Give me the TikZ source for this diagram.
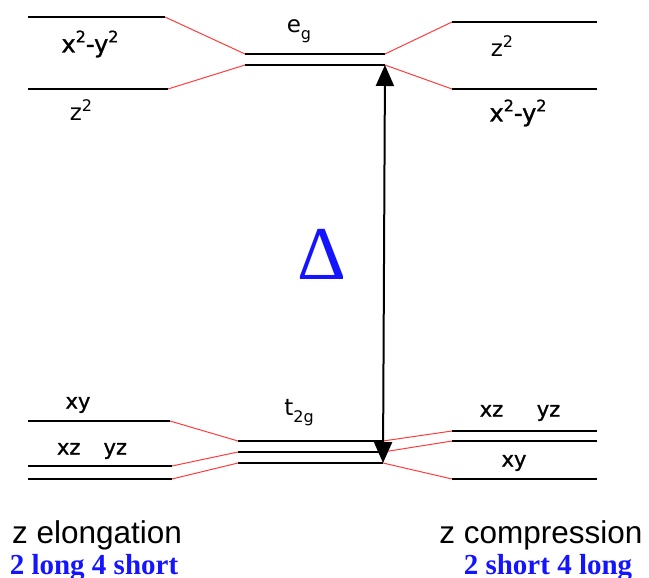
\documentclass[tikz,border=0pt]{standalone}
\usepackage{fontspec}
\setmainfont{Liberation Sans}
\newfontfamily\serifb{Liberation Serif}
\newfontfamily\orbfont{DejaVu Sans}
\newfontfamily\orbbold[FakeBold=1.2]{DejaVu Sans}
\usetikzlibrary{arrows.meta}
\definecolor{lvlred}{RGB}{255,60,60}
\definecolor{txtblue}{RGB}{20,20,255}
\newcommand{\supt}[1]{\raisebox{0.42em}{\fontsize{16}{16}\selectfont #1}}
\newcommand{\subt}[1]{\raisebox{-0.3em}{\fontsize{16}{16}\selectfont #1}}
\tikzset{
  level/.style={line width=2.4pt, black},
  corr/.style={line width=1pt, lvlred},
  orbtop/.style={font=\orbfont\fontsize{23}{23}\selectfont, inner sep=0pt},
  orbx/.style={font=\orbbold\fontsize{24}{24}\selectfont, inner sep=0pt},
  orb/.style={font=\orbbold\fontsize{21}{21}\selectfont, inner sep=0pt},
  captxt/.style={font=\fontsize{31.5}{31.5}\selectfont, inner sep=0pt},
  capblue/.style={font=\serifb\bfseries\fontsize{29}{29}\selectfont, text=txtblue, inner sep=0pt}
}
\begin{document}
\begin{tikzpicture}[x=1pt,y=-1pt]
\useasboundingbox (0,0) rectangle (649,578);
% ---- top left
\coordinate (La1) at (28,17);  \coordinate (La2) at (165,17);
\coordinate (Lb1) at (28,89);  \coordinate (Lb2) at (168,89);
% ---- eg center
\coordinate (Ea1) at (245,54); \coordinate (Ea2) at (385,54);
\coordinate (Eb1) at (245,65); \coordinate (Eb2) at (385,65);
% ---- top right
\coordinate (Ra1) at (452,22); \coordinate (Ra2) at (597,22);
\coordinate (Rb1) at (452,89); \coordinate (Rb2) at (597,89);
\draw[level] (La1) -- (La2);
\draw[level] (Lb1) -- (Lb2);
\draw[level] (Ea1) -- (Ea2);
\draw[level] (Eb1) -- (Eb2);
\draw[level] (Ra1) -- (Ra2);
\draw[level] (Rb1) -- (Rb2);
\draw[corr] (La2) -- (Ea1);
\draw[corr] (Lb2) -- (Eb1);
\draw[corr] (Ea2) -- (Ra1);
\draw[corr] (Eb2) -- (Rb1);
\node[orbx] (lx) at (90,44) {x\supt{2}-y\supt{2}};
\node[orbtop] (lz) at (81,110) {z\supt{2}};
\node[orbtop] (eg) at (299,31) {e\subt{g}};
\node[orbtop] (rz) at (502,46) {z\supt{2}};
\node[orbx] (rx) at (518,113) {x\supt{2}-y\supt{2}};
% ---- bottom left
\coordinate (Lc1) at (28,421);  \coordinate (Lc2) at (170,421);
\coordinate (Ld1) at (28,466);  \coordinate (Ld2) at (172,466);
\coordinate (Le1) at (28,479);  \coordinate (Le2) at (172,479);
% ---- t2g center
\coordinate (Ta1) at (238,441); \coordinate (Ta2) at (383,441);
\coordinate (Tb1) at (238,452); \coordinate (Tb2) at (383,452);
\coordinate (Tc1) at (238,463); \coordinate (Tc2) at (383,463);
% ---- bottom right
\coordinate (Rc1) at (452,431); \coordinate (Rc2) at (597,431);
\coordinate (Rd1) at (452,441); \coordinate (Rd2) at (597,441);
\coordinate (Re1) at (452,479); \coordinate (Re2) at (597,479);
\foreach \p in {Lc,Ld,Le,Ta,Tb,Tc,Rc,Rd,Re}{\draw[level] (\p1) -- (\p2);}
\draw[corr] (Lc2) -- (Ta1);
\draw[corr] (Ld2) -- (Tb1);
\draw[corr] (Le2) -- (Tc1);
\draw[corr] (Ta2) -- (Rc1);
\draw[corr] (Tb2) -- (Rd1);
\draw[corr] (Tc2) -- (Re1);
\node[orb] (lxy) at (78,405) {xy};
\node[orb] (lxz) at (92,451) {xz\hspace{1.1em}yz};
\node[orbtop] (t2g) at (299,413) {t\subt{2g}};
\node[orb] (rxz) at (520,413) {xz\hspace{1.6em}yz};
\node[orb] (rxy) at (514,463) {xy};
% ---- Delta arrow
\draw[line width=2pt, {Triangle[length=21pt,width=18pt]}-{Triangle[length=21pt,width=18pt]}] (Eb2) -- (Tc2);
\node[font=\serifb\fontsize{76}{76}\selectfont, text=txtblue, inner sep=0pt] (delta) at (322,254) {Δ};
% ---- captions
\node[captxt] (ze) at (97,535) {z elongation};
\node[capblue] (zel) at (94,568) {2 long 4 short};
\node[captxt] (zc) at (541,535) {z compression};
\node[capblue] (zcl) at (548,568) {2 short 4 long};
\end{tikzpicture}
\end{document}
